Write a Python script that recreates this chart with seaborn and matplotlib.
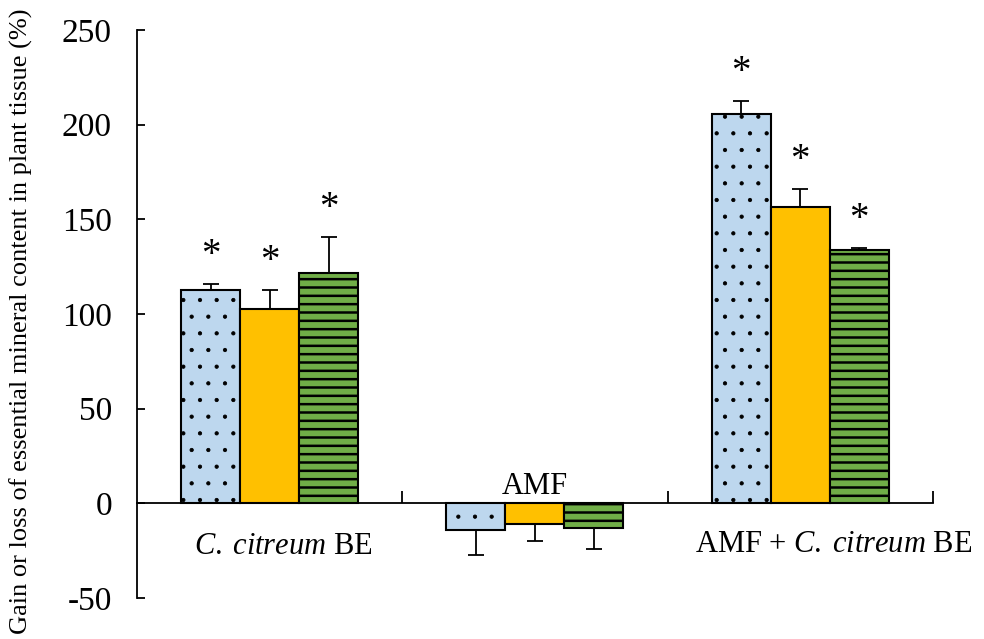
import numpy as np
import pandas as pd
import matplotlib
matplotlib.use('Agg')
import matplotlib.pyplot as plt
import seaborn as sns

# 数据
groups = ['C. citreum BE', 'AMF', 'AMF + C. citreum BE']
series = ['s1', 's2', 's3']
s1_vals = [112.6, -14.3, 205.6]
s2_vals = [102.5, -11.1, 156.4]
s3_vals = [121.6, -13.2, 133.7]
s1_err = [3.1, 13.2, 6.9]
s2_err = [10.1, 8.9, 9.6]
s3_err = [19.0, 11.1, 1.1]
# 显著性标记
s1_star = [True, False, True]
s2_star = [True, False, True]
s3_star = [True, False, True]

colors = ['#BDD7EE', '#FFC000', '#70AD47']
hatches = ['.', '', '--']
hatch_lw = [0.6, 1.0, 1.8]

sns.set_style('ticks')
plt.rcParams['font.family'] = ['Liberation Serif', 'DejaVu Serif']
plt.rcParams['mathtext.fontset'] = 'custom'
plt.rcParams['mathtext.rm'] = 'Liberation Serif'
plt.rcParams['mathtext.it'] = 'Liberation Serif:italic'
plt.rcParams['axes.unicode_minus'] = False
plt.rcParams['hatch.linewidth'] = 1.8
plt.rcParams['hatch.color'] = 'black'
for k in ['text.color', 'axes.labelcolor', 'xtick.color', 'ytick.color', 'axes.edgecolor']:
    plt.rcParams[k] = 'black'

df = pd.DataFrame({
    'group': groups * 3,
    'series': [s for s in series for _ in groups],
    'value': s1_vals + s2_vals + s3_vals,
})
errs = [s1_err, s2_err, s3_err]
stars = [s1_star, s2_star, s3_star]

fig = plt.figure(figsize=(9.84, 6.39), dpi=100)
ax = fig.add_axes([0.1392, 0.0642, 0.8088, 0.8888])

sns.barplot(data=df, x='group', y='value', hue='series', palette=colors,
            saturation=1, width=0.667, edgecolor='black', linewidth=1.5,
            legend=False, errorbar=None, ax=ax)

bar_conts = list(ax.containers)
for i, cont in enumerate(bar_conts):
    for j, bar in enumerate(cont.patches):
        bar.set_hatch(hatches[i])
        if hasattr(bar, 'set_hatch_linewidth'):
            bar.set_hatch_linewidth(hatch_lw[i])
        v = bar.get_height()
        e = errs[i][j]
        xc = bar.get_x() + bar.get_width() / 2
        yerr = [[0], [e]] if v >= 0 else [[e], [0]]
        ax.errorbar(xc, v, yerr=yerr, fmt='none', ecolor='black',
                    elinewidth=1.3, capsize=6, capthick=1.3, zorder=1)
        if stars[i][j]:
            ax.text(xc, v + e + 15, '*', ha='center', va='center', fontsize=28)

ax.set_xlim(-0.5, 2.5)
ax.set_ylim(-50, 250)
ax.set_yticks(np.arange(-50, 251, 50))
ax.set_xticks([0.5, 1.5, 2.5])
ax.set_xticklabels([])
ax.set_xlabel('')
ax.set_ylabel('Gain or loss of essential mineral content in plant tissue (%)', fontsize=19)
ax.yaxis.set_label_coords(-0.131, 0.488)
ax.tick_params(axis='y', direction='in', length=6, width=1.3, labelsize=24, pad=18)
ax.tick_params(axis='x', direction='in', length=9, width=1.3)
ax.spines['bottom'].set_position(('data', 0))
ax.spines['top'].set_visible(False)
ax.spines['right'].set_visible(False)
ax.spines['left'].set_linewidth(1.3)
ax.spines['bottom'].set_linewidth(1.3)

# 组标签
ax.text(0.05, -23, r'$\it{C.\;citreum}$ BE', ha='center', va='center', fontsize=22)
ax.text(1.0, 9, 'AMF', ha='center', va='center', fontsize=22)
ax.text(2.127, -22, r'AMF + $\it{C.\;citreum}$ BE', ha='center', va='center', fontsize=22, clip_on=False)

fig.savefig('out.png', dpi=100)
